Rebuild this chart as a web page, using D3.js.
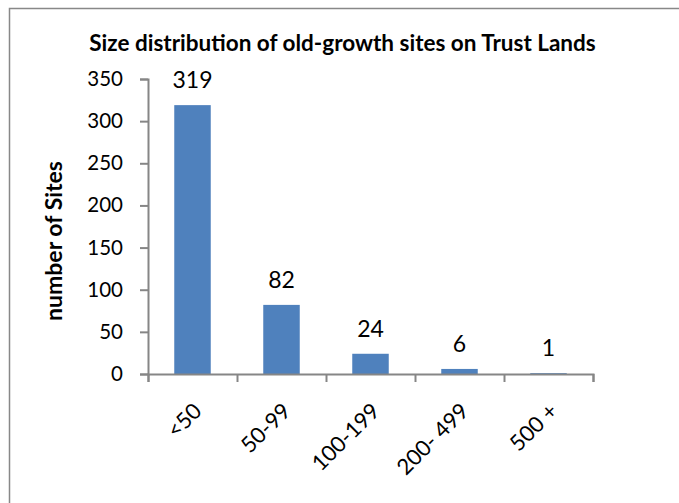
<!DOCTYPE html>
<html><head><meta charset="utf-8">
<script src="https://cdn.jsdelivr.net/npm/d3@7"></script>
<style>body{margin:0;background:#fff}svg{display:block}text{font-family:Lato,"Open Sans",sans-serif;fill:#000}</style>
</head><body><svg id="c" width="679" height="503"></svg>
<script>
const categories = ["<50","50-99","100-199","200- 499","500 +"];
const values = [319, 82, 24, 6, 1];
const yTicks = [0,50,100,150,200,250,300,350];
const title = "Size distribution of old-growth sites on Trust Lands";
const yTitle = "number of Sites";

const svg = d3.select("#c");
svg.append("rect").attr("x",9.5).attr("y",8.5).attr("width",700).attr("height",520)
  .attr("fill","#fff").attr("stroke","#888").attr("stroke-width",1.5);

const x = d3.scaleBand().domain(categories).range([148,593]).paddingInner(0.59).paddingOuter(0.295);
const y = d3.scaleLinear().domain([0,350]).range([374,79]);
const axisColor = "#868686";

// y axis
const ya = svg.append("g").attr("transform","translate(148,0)")
  .call(d3.axisLeft(y).tickValues(yTicks).tickSize(8).tickPadding(17));
ya.select(".domain").attr("stroke",axisColor).attr("stroke-width",2);
ya.selectAll(".tick line").attr("stroke",axisColor).attr("stroke-width",2);
ya.selectAll(".tick text").style("font-size","20.5px").style("font-family","Lato").attr("fill","#000");

// bars
svg.selectAll("rect.bar").data(values).join("rect").attr("class","bar")
  .attr("x",(d,i)=>x(categories[i])).attr("width",x.bandwidth())
  .attr("y",d=>y(d)).attr("height",d=>y(0)-y(d)).attr("fill","#4F81BD");

// x axis
const xb = d3.scaleLinear().domain([0,categories.length]).range([148,593]);
const xa = svg.append("g").attr("transform",`translate(0,${y(0)})`)
  .call(d3.axisBottom(xb).tickValues(d3.range(categories.length+1)).tickSize(8).tickSizeOuter(8).tickFormat(""));
xa.select(".domain").attr("stroke",axisColor).attr("stroke-width",2);
xa.selectAll(".tick line").attr("stroke",axisColor).attr("stroke-width",2);

// x labels
svg.selectAll("text.xl").data(categories).join("text").attr("class","xl")
  .attr("transform",d=>`translate(${x(d)+x.bandwidth()/2+5},${407}) rotate(-45)`)
  .attr("text-anchor","end").attr("dy","0.35em").style("font-size","22px").text(d=>d);

// value labels
svg.selectAll("text.vl").data(values).join("text").attr("class","vl")
  .attr("x",(d,i)=>x(categories[i])+x.bandwidth()/2).attr("y",d=>y(d)-17)
  .attr("text-anchor","middle").style("font-size","23px").text(d=>d);

// title
svg.append("text").attr("x",342.5).attr("y",51).attr("text-anchor","middle")
  .style("font-size","22.5px").style("font-weight","bold").text(title);

// y title
svg.append("text").attr("transform","translate(62,241) rotate(-90)").attr("text-anchor","middle")
  .style("font-size","23px").style("font-weight","bold").text(yTitle);
</script></body></html>
